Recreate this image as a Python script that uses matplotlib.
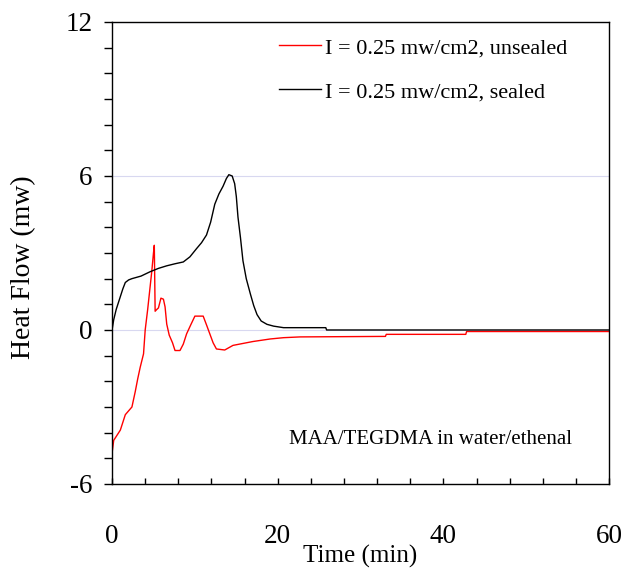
import numpy as np
import matplotlib
matplotlib.use("Agg")
import matplotlib.pyplot as plt
from matplotlib.ticker import MultipleLocator

plt.rcParams['font.family'] = ['Liberation Serif', 'DejaVu Serif']
plt.rcParams['axes.unicode_minus'] = False

# sealed sample (black)
t_sealed = [0, 0.2, 0.5, 0.9, 1.3, 1.6, 2.0, 2.4, 3.5, 4.6, 5.6, 6.6, 7.6, 8.6, 9.4,
            10.2, 10.8, 11.4, 11.9, 12.4, 12.9, 13.4, 13.8, 14.1, 14.5, 14.8, 15.0,
            15.2, 15.5, 15.8, 16.2, 16.7, 17.1, 17.5, 18.0, 18.7, 19.5, 20.7, 25.8,
            25.9, 60]
q_sealed = [0, 0.4, 0.8, 1.2, 1.6, 1.85, 1.95, 2.0, 2.1, 2.27, 2.4, 2.5, 2.58, 2.65, 2.85,
            3.17, 3.4, 3.7, 4.2, 4.9, 5.3, 5.6, 5.9, 6.05, 6.0, 5.7, 5.2,
            4.4, 3.6, 2.7, 2.0, 1.4, 0.95, 0.6, 0.35, 0.22, 0.15, 0.09, 0.09,
            0.0, 0.0]

# unsealed sample (red)
t_unsealed = [0, 0.2, 0.5, 1.0, 1.6, 2.0, 2.4, 2.8, 3.1, 3.4, 3.8, 4.0, 4.3, 4.5, 4.8,
              5.0, 5.1, 5.2, 5.4, 5.6, 5.9, 6.2, 6.4, 6.6, 6.9, 7.3, 7.6, 8.2, 8.6,
              9.0, 9.5, 10.0, 11.0, 11.4, 11.8, 12.2, 12.6, 13.6, 14.6, 17.0, 19.1,
              20.7, 22.7, 33.0, 33.1, 42.7, 42.8, 60]
q_unsealed = [-4.8, -4.3, -4.15, -3.9, -3.3, -3.15, -3.0, -2.4, -1.9, -1.45, -0.93, 0.0, 0.8, 1.4, 2.3,
              3.0, 3.3, 0.73, 0.8, 0.86, 1.24, 1.2, 0.9, 0.23, -0.2, -0.5, -0.8, -0.8, -0.55,
              -0.15, 0.2, 0.54, 0.54, 0.2, -0.15, -0.5, -0.74, -0.78, -0.6, -0.45, -0.35,
              -0.3, -0.27, -0.25, -0.17, -0.17, -0.06, -0.06]

labels = ['I = 0.25 mw/cm2, unsealed', 'I = 0.25 mw/cm2, sealed']

fig = plt.figure(figsize=(6.26, 5.69), dpi=100)
ax = fig.add_axes([0.179, 0.1494, 0.794, 0.812])

ax.plot(t_unsealed, q_unsealed, color='red', lw=1.0, label=labels[0])
ax.plot(t_sealed, q_sealed, color='black', lw=1.0, label=labels[1])

ax.set_xlim(0, 60)
ax.set_ylim(-6, 12)
ax.xaxis.set_major_locator(MultipleLocator(20))
ax.xaxis.set_minor_locator(MultipleLocator(4))
ax.yaxis.set_major_locator(MultipleLocator(6))
ax.yaxis.set_minor_locator(MultipleLocator(1))

ax.yaxis.grid(True, which='major', color='#d8d8f0', lw=0.8)
ax.set_axisbelow(True)

ax.tick_params(axis='x', which='both', direction='in', length=4.5, width=1, pad=29, labelsize=19.5)
ax.tick_params(axis='y', which='both', direction='out', length=6, width=1, pad=8, labelsize=19.5)
for s in ax.spines.values():
    s.set_linewidth(1.0)

ax.set_xlabel('Time (min)', fontsize=18, labelpad=-3)
ax.set_ylabel('Heat Flow (mw)', fontsize=20)
ax.yaxis.set_label_coords(-0.152, 0.47)

ax.legend(loc='upper left', bbox_to_anchor=(0.336, 0.966), frameon=False,
          fontsize=16, handlelength=1.9, handletextpad=0.15, labelspacing=1.05,
          borderpad=0, borderaxespad=0)

ax.text(38.4, -4.25, 'MAA/TEGDMA in water/ethenal', fontsize=15, ha='center', va='center')

fig.savefig('out.png', dpi=100)
